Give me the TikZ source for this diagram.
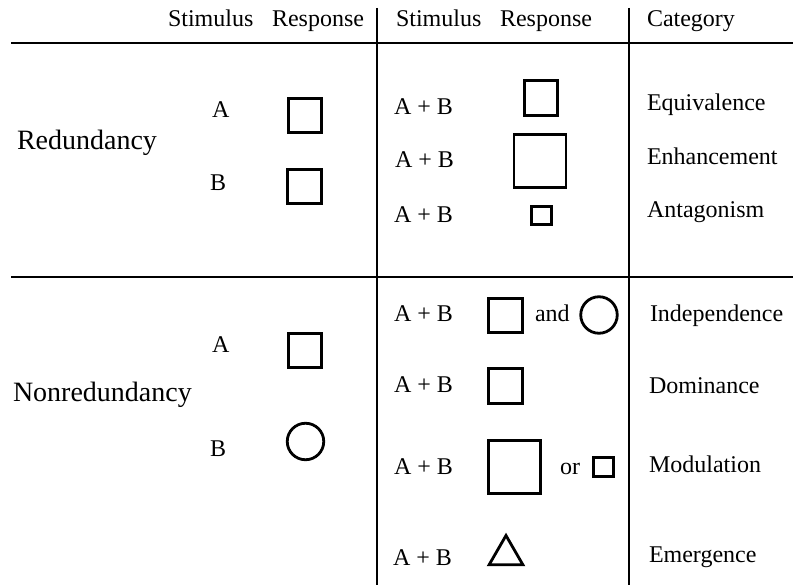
\documentclass[tikz,border=0pt]{standalone}
\usepackage{fontspec}
\setmainfont{Liberation Serif}
\usetikzlibrary{shapes.geometric}
\begin{document}
\begin{tikzpicture}[x=1pt,y=-1pt,
  rule/.style={line width=1.8pt},
  txt/.style={inner sep=0pt,outer sep=0pt,anchor=base west,font=\fontsize{24}{28}\selectfont},
  big/.style={inner sep=0pt,outer sep=0pt,anchor=base west,font=\fontsize{28}{32}\selectfont},
  shp/.style={draw,line width=2.8pt,inner sep=0pt,outer sep=0pt},
  sq/.style={shp,rectangle,minimum width=33.5pt,minimum height=34.5pt},
  bigsq/.style={shp,rectangle,minimum width=52pt,minimum height=53.5pt},
  smallsq/.style={shp,rectangle,minimum width=20.5pt,minimum height=18.5pt},
  circ/.style={shp,circle,minimum size=36.5pt},
  tri/.style={shp,regular polygon,regular polygon sides=3,minimum size=39pt}
]
\useasboundingbox (0,0) rectangle (793,585);
% rules
\coordinate (h1l) at (11,43); \coordinate (h1r) at (793,43);
\coordinate (h2l) at (11,277); \coordinate (h2r) at (793,277);
\coordinate (v1t) at (377,8); \coordinate (v1b) at (377,585);
\coordinate (v2t) at (629,8); \coordinate (v2b) at (629,585);
\draw[rule] (h1l) -- (h1r);
\draw[rule] (h2l) -- (h2r);
\draw[rule] (v1t) -- (v1b);
\draw[rule] (v2t) -- (v2b);
% headers
\node[txt] (hs1) at (168,27) {Stimulus};
\node[txt] (hr1) at (272,27) {Response};
\node[txt] (hs2) at (396,27) {Stimulus};
\node[txt] (hr2) at (500,27) {Response};
\node[txt] (hc) at (647,27) {Category};
% redundancy left
\node[big] (red) at (17,150) {Redundancy};
\node[txt] (ra) at (212,118) {A};
\node[txt] (rb) at (210,191) {B};
\node[sq] (rasq) at (305,115.5) {};
\node[sq] (rbsq) at (304.5,186.5) {};
% redundancy middle
\node[txt] (r1) at (394,115) {A + B};
\node[txt] (r2) at (395,168) {A + B};
\node[txt] (r3) at (394,223) {A + B};
\node[sq] (eqsq) at (541,98) {};
\node[bigsq] (ensq) at (540,161) {};
\node[smallsq] (ansq) at (541.5,215.5) {};
\node[txt] (eq) at (647,111) {Equivalence};
\node[txt] (en) at (647,165) {Enhancement};
\node[txt] (an) at (647,218) {Antagonism};
% nonredundancy left
\node[big] (nred) at (13,402) {Nonredundancy};
\node[txt] (na) at (212,353) {A};
\node[txt] (nb) at (210,456) {B};
\node[sq] (nasq) at (305,350.5) {};
\node[circ] (nbc) at (305.5,441.5) {};
% nonredundancy middle
\node[txt] (n1) at (394,322) {A + B};
\node[txt] (n2) at (394,392) {A + B};
\node[txt] (n3) at (394,474) {A + B};
\node[txt] (n4) at (393,565) {A + B};
\node[sq] (insq) at (505.5,315.5) {};
\node[txt] (and) at (535,322) {and};
\node[circ] (inc) at (599,315) {};
\node[sq] (dosq) at (505.5,386) {};
\node[bigsq] (mosq) at (514.5,467) {};
\node[txt] (or) at (560,474) {or};
\node[smallsq] (mosm) at (603.5,467) {};
\node[tri] (emtri) at (506,555) {};
\node[txt] (in) at (650,322) {Independence};
\node[txt] (do) at (649,394) {Dominance};
\node[txt] (mo) at (649,472) {Modulation};
\node[txt] (em) at (649,562) {Emergence};
\end{tikzpicture}
\end{document}
